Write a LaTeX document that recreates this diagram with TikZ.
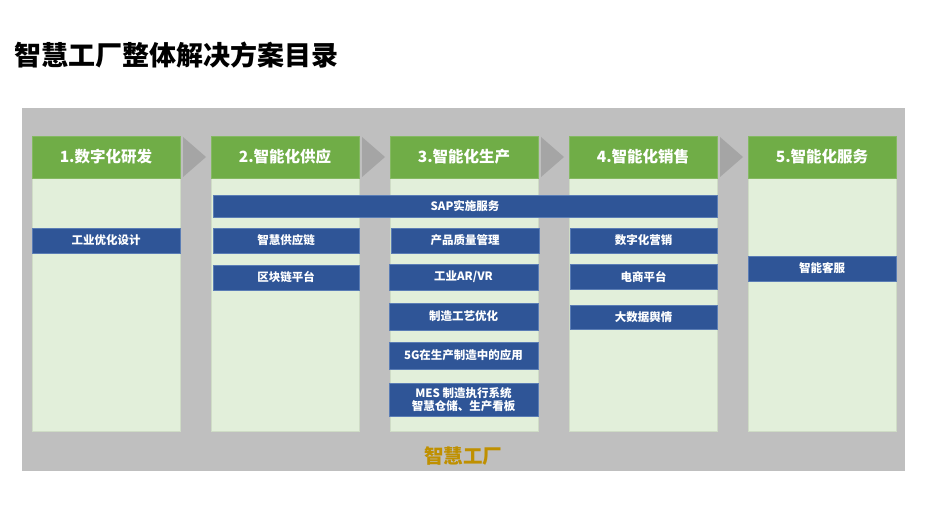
\documentclass[tikz,border=0pt]{standalone}
\usepackage{fontspec}
\setmainfont{Noto Sans CJK SC}
\usetikzlibrary{calc}
\definecolor{bggray}{HTML}{BFBFBF}
\definecolor{arrgray}{HTML}{A5A5A5}
\definecolor{hdrgreen}{HTML}{70AD47}
\definecolor{bodygreen}{HTML}{E2EFDA}
\definecolor{bodyline}{HTML}{CFDCC6}
\definecolor{barblue}{HTML}{2F5597}
\definecolor{barline}{HTML}{5B7DB5}
\definecolor{gold}{HTML}{BF9000}
\tikzset{
  hdr/.style={fill=hdrgreen, draw=hdrgreen!85!white, line width=0.6pt, anchor=north west, inner sep=0pt, outer sep=0pt,
    minimum width=148pt, minimum height=42pt, text=white, font=\bfseries\fontsize{15.5}{17}\selectfont},
  colbody/.style={fill=bodygreen, draw=bodyline, line width=0.8pt, anchor=north west, inner sep=0pt, outer sep=0pt,
    minimum width=148pt, minimum height=253pt},
  bar/.style={fill=barblue, draw=barline, line width=0.6pt, anchor=north west, inner sep=0pt, outer sep=0pt,
    minimum width=148pt, minimum height=25pt, text=white, font=\bfseries\fontsize{11.5}{14}\selectfont, align=center},
  chev/.style={fill=arrgray}
}
\begin{document}
\begin{tikzpicture}[x=1pt,y=-1pt]
\useasboundingbox (0,0) rectangle (929,521);
\fill[white] (0,0) rectangle (929,521);
% title
\node[anchor=west, inner sep=0pt, font=\bfseries\fontsize{27}{30}\selectfont] (title) at (14,55) {智慧工厂整体解决方案目录};
% background
\node[fill=bggray, anchor=north west, inner sep=0pt, outer sep=0pt, minimum width=883pt, minimum height=363pt] (bg) at (22,108) {};
% columns
\foreach \i/\x in {1/32,2/211,3/390,4/569,5/748}{
  \node[colbody] (b\i) at (\x,178) {};
}
\node[hdr] (h1) at (32,136) {1.数字化研发};
\node[hdr] (h2) at (211,136) {2.智能化供应};
\node[hdr] (h3) at (390,136) {3.智能化生产};
\node[hdr] (h4) at (569,136) {4.智能化销售};
\node[hdr] (h5) at (748,136) {5.智能化服务};
% chevrons
\foreach \i in {1,2,3,4}{
  \fill[chev] ($(h\i.north east)+(3,1)$) -- ($(h\i.east)+(26,0)$) -- ($(h\i.south east)+(3,-1)$) -- cycle;
}
% bars
\node[bar, minimum width=504pt, minimum height=22pt] (sap) at (213,195) {SAP实施服务};
\node[bar] (c1a) at (32,228) {工业优化设计};
\node[bar, minimum width=146pt] (c2a) at (213,228) {智慧供应链};
\node[bar, minimum width=146pt] (c2b) at (213,265) {区块链平台};
\node[bar] (c3a) at (391,228) {产品质量管理};
\node[bar, minimum width=149pt, minimum height=26pt] (c3b) at (389,264) {工业AR/VR};
\node[bar, minimum width=149pt, minimum height=27pt] (c3c) at (389,303) {制造工艺优化};
\node[bar, minimum width=149pt, minimum height=27pt] (c3d) at (389,342) {5G在生产制造中的应用};
\node[bar, minimum width=149pt, minimum height=33pt, font=\bfseries\fontsize{11.5}{13}\selectfont] (c3e) at (389,383) {MES 制造执行系统\\智慧仓储、生产看板};
\node[bar, minimum width=147pt] (c4a) at (570,228) {数字化营销};
\node[bar, minimum width=147pt] (c4b) at (570,264) {电商平台};
\node[bar, minimum width=147pt, minimum height=24pt] (c4c) at (570,305) {大数据舆情};
\node[bar] (c5a) at (748,256) {智能客服};
% footer label
\node[text=gold, font=\bfseries\fontsize{19.5}{22}\selectfont, inner sep=0pt] (foot) at (463,456) {智慧工厂};
\end{tikzpicture}
\end{document}
